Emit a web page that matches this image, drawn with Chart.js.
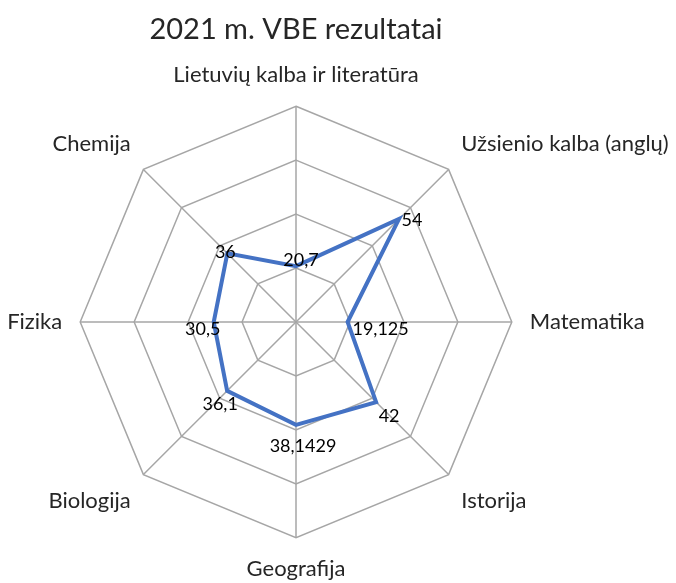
<!DOCTYPE html>
<html>
<head>
<meta charset="utf-8">
<script src="https://cdn.jsdelivr.net/npm/chart.js@4"></script>
<style>
    html, body { margin: 0; padding: 0; background: #ffffff; overflow: hidden; width: 676px; height: 583px; }
    /* canvas is wider than the window so the radar can sit left of centre
       with its long right-hand labels still fitting, like the original */
    #wrap { position: absolute; left: -150px; top: 0; width: 892px; height: 583px; }
</style>
</head>
<body>
<div id="wrap"><canvas id="radar-chart"></canvas></div>
<script>
const subjects = [
    'Lietuvių kalba ir literatūra',
    'Užsienio kalba (anglų)',
    'Matematika',
    'Istorija',
    'Geografija',
    'Biologija',
    'Fizika',
    'Chemija'
];
const scores = [20.7, 54, 19.125, 42, 38.1429, 36.1, 30.5, 36];
const scaleTicks = [0, 20, 40, 60, 80];

const FONT = 'Lato, "Liberation Sans", sans-serif';

// where each value label sits next to its point (dx, dy)
const labelOffsets = [[5, -6], [13, 1], [33, 7], [13, 14], [7, 21], [-7, 13], [-11, 7], [-2, -1]];

const valueLabels = {
    id: 'valueLabels',
    afterDatasetsDraw(chart) {
        const ctx = chart.ctx;
        const meta = chart.getDatasetMeta(0);
        ctx.save();
        ctx.font = '18px ' + FONT;
        ctx.fillStyle = '#000000';
        ctx.textAlign = 'center';
        ctx.textBaseline = 'middle';
        meta.data.forEach((point, i) => {
            const text = String(scores[i]).replace('.', ',');
            ctx.fillText(text, point.x + labelOffsets[i][0], point.y + labelOffsets[i][1]);
        });
        ctx.restore();
    }
};

const chart = new Chart(document.querySelector('#radar-chart'), {
    type: 'radar',
    data: {
        labels: subjects,
        datasets: [{
            data: scores,
            borderColor: '#4472C4',
            borderWidth: 4,
            fill: false,
            pointRadius: 0,
            tension: 0
        }]
    },
    options: {
        responsive: true,
        maintainAspectRatio: false,
        animation: false,
        layout: { padding: 0 },
        plugins: {
            legend: { display: false },
            tooltip: { enabled: false },
            title: {
                display: true,
                text: '2021 m. VBE rezultatai',
                color: '#262626',
                font: { family: FONT, size: 29, weight: 'normal' },
                padding: { top: 12, bottom: 15 }
            }
        },
        scales: {
            r: {
                min: scaleTicks[0],
                max: scaleTicks[scaleTicks.length - 1],
                ticks: { display: false, stepSize: scaleTicks[1] - scaleTicks[0] },
                grid: { color: '#a6a6a6', lineWidth: 1.5 },
                angleLines: { color: '#a6a6a6', lineWidth: 1.5 },
                pointLabels: {
                    color: '#262626',
                    padding: 18,
                    font: { family: FONT, size: 22 }
                }
            }
        }
    },
    plugins: [valueLabels]
});
</script>
</body>
</html>
